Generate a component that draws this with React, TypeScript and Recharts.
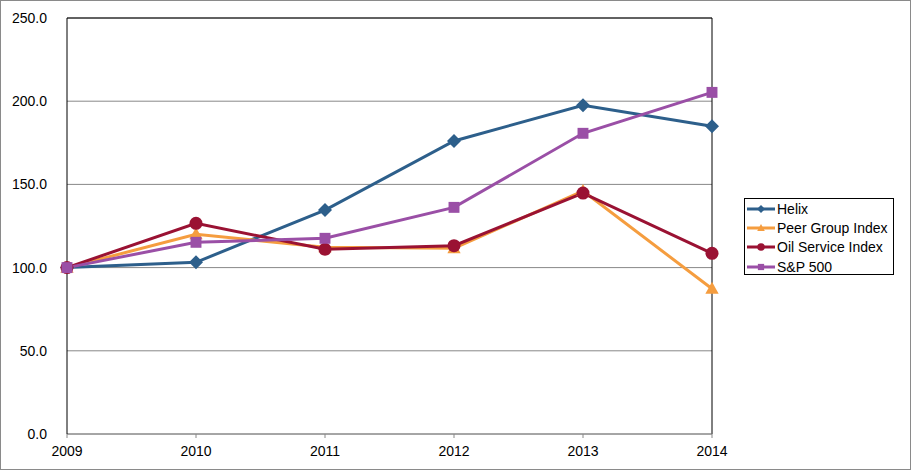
import {
  CartesianGrid,
  Legend,
  Line,
  LineChart,
  ReferenceLine,
  XAxis,
  YAxis,
} from "recharts";

const anos = ["2009", "2010", "2011", "2012", "2013", "2014"];
const helix = [100, 103.2, 134.6, 176.1, 197.5, 184.9];
const peerGroup = [100, 120.0, 112.2, 111.6, 146.0, 87.3];
const oilService = [100, 126.6, 111.0, 113.2, 144.8, 108.6];
const sp500 = [100, 115.2, 117.6, 136.2, 180.7, 205.3];
const ticksY = [0, 50, 100, 150, 200, 250];

const dados = anos.map((ano, i) => ({
  ano,
  helix: helix[i],
  peer: peerGroup[i],
  oil: oilService[i],
  sp: sp500[i],
}));

const FONTE = "'Liberation Sans', Arial, sans-serif";

type Forma = "diamante" | "triangulo" | "circulo" | "quadrado";

function Marcador({
  cx,
  cy,
  forma,
  cor,
  r,
}: {
  cx: number;
  cy: number;
  forma: Forma;
  cor: string;
  r: number;
}) {
  if (forma === "diamante")
    return (
      <path
        d={`M${cx},${cy - r}L${cx + r},${cy}L${cx},${cy + r}L${cx - r},${cy}Z`}
        fill={cor}
      />
    );
  if (forma === "triangulo")
    return (
      <path
        d={`M${cx},${cy - r}L${cx + r * 0.95},${cy + r * 0.72}L${cx - r * 0.95},${cy + r * 0.72}Z`}
        fill={cor}
      />
    );
  if (forma === "circulo") return <circle cx={cx} cy={cy} r={r * 0.93} fill={cor} />;
  const s = r * 0.78;
  return <rect x={cx - s} y={cy - s} width={s * 2} height={s * 2} fill={cor} />;
}

const series: { chave: string; nome: string; cor: string; forma: Forma }[] = [
  { chave: "helix", nome: "Helix", cor: "#2D5F8B", forma: "diamante" },
  { chave: "peer", nome: "Peer Group Index", cor: "#F59D3F", forma: "triangulo" },
  { chave: "oil", nome: "Oil Service Index", cor: "#9A1233", forma: "circulo" },
  { chave: "sp", nome: "S&P 500", cor: "#9A4FA6", forma: "quadrado" },
];

function LegendaCaixa() {
  return (
    <div
      style={{
        border: "1px solid #000",
        background: "#fff",
        width: 148,
        height: 75,
        boxSizing: "content-box",
        fontFamily: FONTE,
        fontSize: 14,
        color: "#000",
        paddingTop: 0,
      }}
    >
      {series.map((s) => (
        <div
          key={s.chave}
          style={{ display: "flex", alignItems: "center", height: 19.3, marginTop: 0 }}
        >
          <svg width={30} height={12} style={{ display: "block" }}>
            <line x1={2} x2={30} y1={6} y2={6} stroke={s.cor} strokeWidth={3} />
            <Marcador cx={16} cy={6} forma={s.forma} cor={s.cor} r={4} />
          </svg>
          <span style={{ marginLeft: 2, whiteSpace: "nowrap" }}>{s.nome}</span>
        </div>
      ))}
    </div>
  );
}

export default function App() {
  return (
    <div style={{ position: "absolute", left: 0, top: 0, width: 911, height: 470 }}>
      <LineChart
        width={911}
        height={470}
        data={dados}
        margin={{ top: 18, right: 199, bottom: 6, left: 0 }}
        style={{ background: "#fff" }}
      >
        <CartesianGrid vertical={false} stroke="#888" strokeWidth={1} />
        <XAxis
          dataKey="ano"
          height={30}
          tickSize={4}
          tickMargin={8}
          stroke="#888"
          tick={{ fill: "#000", fontSize: 14, fontFamily: FONTE }}
          interval={0}
        />
        <YAxis
          width={67}
          domain={[0, 250]}
          ticks={ticksY}
          tickFormatter={(v: number) => v.toFixed(1)}
          tickLine={false}
          tickSize={0}
          tickMargin={20}
          axisLine={{ stroke: "#000" }}
          tick={{ fill: "#000", fontSize: 14, fontFamily: FONTE }}
        />
        <ReferenceLine y={250} stroke="#000" />
        <ReferenceLine x="2014" stroke="#000" />
        {series.map((s) => (
          <Line
            key={s.chave}
            type="linear"
            dataKey={s.chave}
            name={s.nome}
            stroke={s.cor}
            strokeWidth={3}
            isAnimationActive={false}
            dot={(p: any) => (
              <Marcador
                key={`${s.chave}-${p.index}`}
                cx={p.cx}
                cy={p.cy}
                forma={s.forma}
                cor={s.cor}
                r={7}
              />
            )}
            activeDot={false}
          />
        ))}
        <Legend
          layout="horizontal"
          align="center"
          verticalAlign="middle"
          width={150}
          height={77}
          wrapperStyle={{ left: 744, top: 198, width: 150, height: 77 }}
          content={() => <LegendaCaixa />}
        />
      </LineChart>
      <div
        style={{
          position: "absolute",
          left: 0,
          top: 0,
          width: 911,
          height: 470,
          border: "1px solid #8a8a8a",
          boxSizing: "border-box",
          pointerEvents: "none",
        }}
      />
    </div>
  );
}
